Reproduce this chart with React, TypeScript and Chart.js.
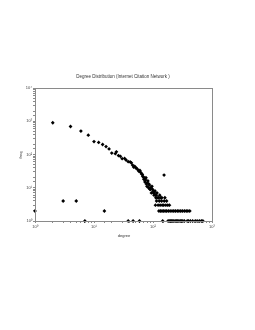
import React, { useEffect, useRef } from "react";
import { Chart, registerables } from "chart.js";

Chart.register(...registerables);

const TITLE = "Degree Distribution (Internet Citation Network )";
const X_TITLE = "degree";
const Y_TITLE = "freq";

// main decaying band
const bandDegree = [2, 4, 6, 8, 10, 12, 14, 16, 18, 20, 23, 24, 26, 28, 30, 33, 35, 38, 41, 43, 45, 47, 49, 51, 53, 56, 58, 60, 62, 64, 66, 67, 69, 70, 72, 73, 75, 76, 77, 79, 80, 82, 84, 85, 87, 89, 90, 92, 94, 96, 98, 100, 102, 104, 106, 108, 110, 112, 114, 117, 121, 125, 130, 135, 141, 154, 159];
const bandFreq = [900, 695, 505, 380, 245, 230, 200, 173, 147, 110, 106, 120, 93, 88, 75, 76, 68, 61, 60, 56, 48, 42, 44, 40, 38, 34, 31, 33, 29, 26, 25, 22, 21, 18, 19, 15, 17, 20, 13, 11, 14, 16, 10, 13, 12, 9, 9, 10, 7, 11, 9, 8, 7, 6, 7, 8, 6, 5, 6, 7, 5, 5, 6, 5, 5, 24, 5];

// low-count rows
const row4Degree = [3, 5, 115, 128, 140, 155, 170];
const row3Degree = [110, 122, 132, 143, 152, 165, 178, 190];
const row2Degree = [1, 15, 126, 134, 142, 150, 160, 170, 182, 195, 210, 225, 240, 258, 275, 295, 315, 340, 365, 390, 420];
const row1Degree = [7, 38, 46, 59, 146, 180, 188, 197, 206, 216, 226, 238, 250, 262, 275, 290, 305, 320, 340, 380, 400, 430, 470, 520, 560, 610, 660, 700];

const X_MIN = 1, X_MAX = 1000;
const Y_MIN = 1, Y_MAX = 10000;

const SUP: Record<string, string> = { "0": "\u2070", "1": "\u00b9", "2": "\u00b2", "3": "\u00b3", "4": "\u2074", "5": "\u2075" };

function powLabel(v: number): string {
  const e = Math.log10(v);
  if (Math.abs(e - Math.round(e)) < 1e-9) {
    return "10" + String(Math.round(e)).split("").map((c) => SUP[c] || c).join("");
  }
  return "";
}

const FONT = "'Liberation Sans', Arial, sans-serif";

export default function App() {
  const ref = useRef<HTMLCanvasElement | null>(null);

  useEffect(() => {
    if (!ref.current) return;
    const points: { x: number; y: number }[] = [];
    bandDegree.forEach((d, i) => points.push({ x: d, y: bandFreq[i] }));
    row4Degree.forEach((d) => points.push({ x: d, y: 4 }));
    row3Degree.forEach((d) => points.push({ x: d, y: 3 }));
    row2Degree.forEach((d) => points.push({ x: d, y: 2 }));
    row1Degree.forEach((d) => points.push({ x: d, y: 1 }));

    const decor = {
      id: "decor",
      afterDraw(chart: any) {
        const { ctx, chartArea: a } = chart;
        ctx.save();
        ctx.strokeStyle = "#8a8a8a";
        ctx.lineWidth = 1;
        ctx.strokeRect(Math.round(a.left) + 0.5, Math.round(a.top) + 0.5, Math.round(a.right - a.left), Math.round(a.bottom - a.top));
        ctx.fillStyle = "#333";
        ctx.textAlign = "center";
        ctx.textBaseline = "middle";
        ctx.font = "4.5px " + FONT;
        ctx.fillText(TITLE, 123, 77);
        ctx.font = "4px " + FONT;
        ctx.fillText(X_TITLE, 124, 236);
        ctx.translate(21, 155);
        ctx.rotate(-Math.PI / 2);
        ctx.fillText(Y_TITLE, 0, 0);
        ctx.restore();
      },
    };

    const chart = new Chart(ref.current, {
      type: "scatter",
      data: {
        datasets: [
          {
            data: points,
            pointStyle: "rectRot",
            pointRadius: 1.9,
            pointBackgroundColor: "#000",
            pointBorderColor: "#000",
            pointBorderWidth: 0,
            clip: false as any,
          },
        ],
      },
      options: {
        responsive: false,
        animation: false,
        events: [],
        layout: { padding: { left: 15, right: 43, top: 88, bottom: 89 } },
        plugins: { legend: { display: false }, tooltip: { enabled: false }, title: { display: false } },
        scales: {
          x: {
            type: "logarithmic",
            min: X_MIN,
            max: X_MAX,
            border: { display: false },
            grid: { drawOnChartArea: false, drawTicks: true, tickLength: 2, color: "#8a8a8a", lineWidth: 1 },
            ticks: {
              autoSkip: false,
              maxRotation: 0,
              padding: 1,
              color: "#444",
              font: { size: 4, family: FONT },
              callback: (v: any) => powLabel(Number(v)),
            },
            afterFit: (s: any) => { s.height = 20; },
          },
          y: {
            type: "logarithmic",
            min: Y_MIN,
            max: Y_MAX,
            border: { display: false },
            grid: { drawOnChartArea: false, drawTicks: true, tickLength: 2, color: "#8a8a8a", lineWidth: 1 },
            ticks: {
              autoSkip: false,
              padding: 1,
              color: "#444",
              font: { size: 4, family: FONT },
              callback: (v: any) => powLabel(Number(v)),
            },
            afterFit: (s: any) => { s.width = 20; },
          },
        },
      },
      plugins: [decor],
    });
    return () => chart.destroy();
  }, []);

  return (
    <div style={{ position: "fixed", left: 0, top: 0, width: 255, height: 330, background: "#fff" }}>
      <canvas ref={ref} width={255} height={330} style={{ width: 255, height: 330, display: "block" }} />
    </div>
  );
}
